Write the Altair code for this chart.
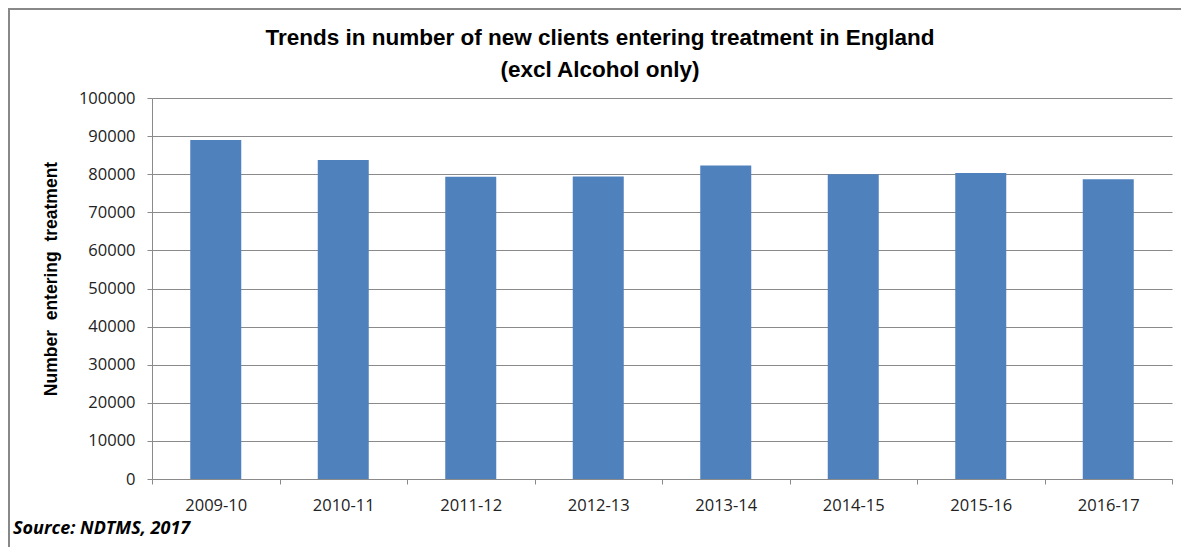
import altair as alt
import pandas as pd

# ---- data ----
years = ["2009-10", "2010-11", "2011-12", "2012-13", "2013-14", "2014-15", "2015-16", "2016-17"]
clients = [89000, 83700, 79300, 79400, 82300, 80000, 80300, 78700]
y_ticks = [0, 10000, 20000, 30000, 40000, 50000, 60000, 70000, 80000, 90000, 100000]
title_lines = ["Trends in number of new clients entering treatment in England", "(excl Alcohol only)"]
y_title = "Number\u00a0 entering\u00a0 treatment"
source_text = "Source: NDTMS, 2017"

df = pd.DataFrame({"year": years, "clients": clients})

W, H = 1020, 381
GRAY = "#8a8a8a"
LBL_FONT = "Open Sans"
TTL_FONT = "Liberation Sans"

x_enc = alt.X(
    "year:N", sort=years,
    scale=alt.Scale(paddingInner=0, paddingOuter=0),
    axis=alt.Axis(title=None, labelAngle=0, tickBand="extent", tickSize=5,
                  tickColor=GRAY, domainColor=GRAY, labelFont=LBL_FONT,
                  labelFontSize=16.5, labelColor="#222222", labelPadding=13,
                  grid=False),
)
y_enc = alt.Y(
    "clients:Q",
    scale=alt.Scale(domain=[0, 100000], nice=False),
    axis=alt.Axis(title=None, values=y_ticks, format="d", grid=True,
                  gridColor=GRAY, tickColor=GRAY, domainColor=GRAY, tickSize=5,
                  labelPadding=12, labelFont=LBL_FONT, labelFontSize=16.5,
                  labelColor="#222222"),
)

bars = alt.Chart(df).mark_bar(color="#4F81BD", width=alt.RelativeBandSize(0.4)).encode(x=x_enc, y=y_enc)

one = pd.DataFrame({"a": [0]})

title1 = alt.Chart(pd.DataFrame({"t": [title_lines[0]]})).mark_text(
    font=TTL_FONT, fontSize=22.5, fontWeight="bold", color="#000000", baseline="middle", align="center"
).encode(text="t:N", x=alt.value(448), y=alt.value(-60))
title2 = alt.Chart(pd.DataFrame({"t": [title_lines[1]]})).mark_text(
    font=TTL_FONT, fontSize=22.5, fontWeight="bold", color="#000000", baseline="middle", align="center"
).encode(text="t:N", x=alt.value(448), y=alt.value(-28))

ytitle = alt.Chart(pd.DataFrame({"t": [y_title]})).mark_text(
    font="Liberation Sans", fontSize=17.5, fontWeight="bold", color="#000000", angle=270,
    baseline="middle", align="center"
).encode(text="t:N", x=alt.value(-100), y=alt.value(181))

source = alt.Chart(pd.DataFrame({"t": [source_text]})).mark_text(
    font=LBL_FONT, fontSize=18, fontWeight="bold", fontStyle="italic", color="#000000",
    baseline="middle", align="left"
).encode(text="t:N", x=alt.value(-139), y=alt.value(431))

frame_left = alt.Chart(one).mark_rule(color="#888888", strokeWidth=2).encode(
    x=alt.value(-143), y=alt.value(-90), y2=alt.value(449))
frame_top = alt.Chart(one).mark_rule(color="#888888", strokeWidth=2).encode(
    x=alt.value(-144), x2=alt.value(1029), y=alt.value(-89))

chart = alt.layer(bars, title1, title2, ytitle, source, frame_left, frame_top).properties(
    width=W, height=H, autosize="none",
    padding={"left": 144, "top": 90, "right": 9, "bottom": 68},
).configure_view(stroke=None)

chart.save("out.html", embed_options={"renderer": "svg", "actions": False})
